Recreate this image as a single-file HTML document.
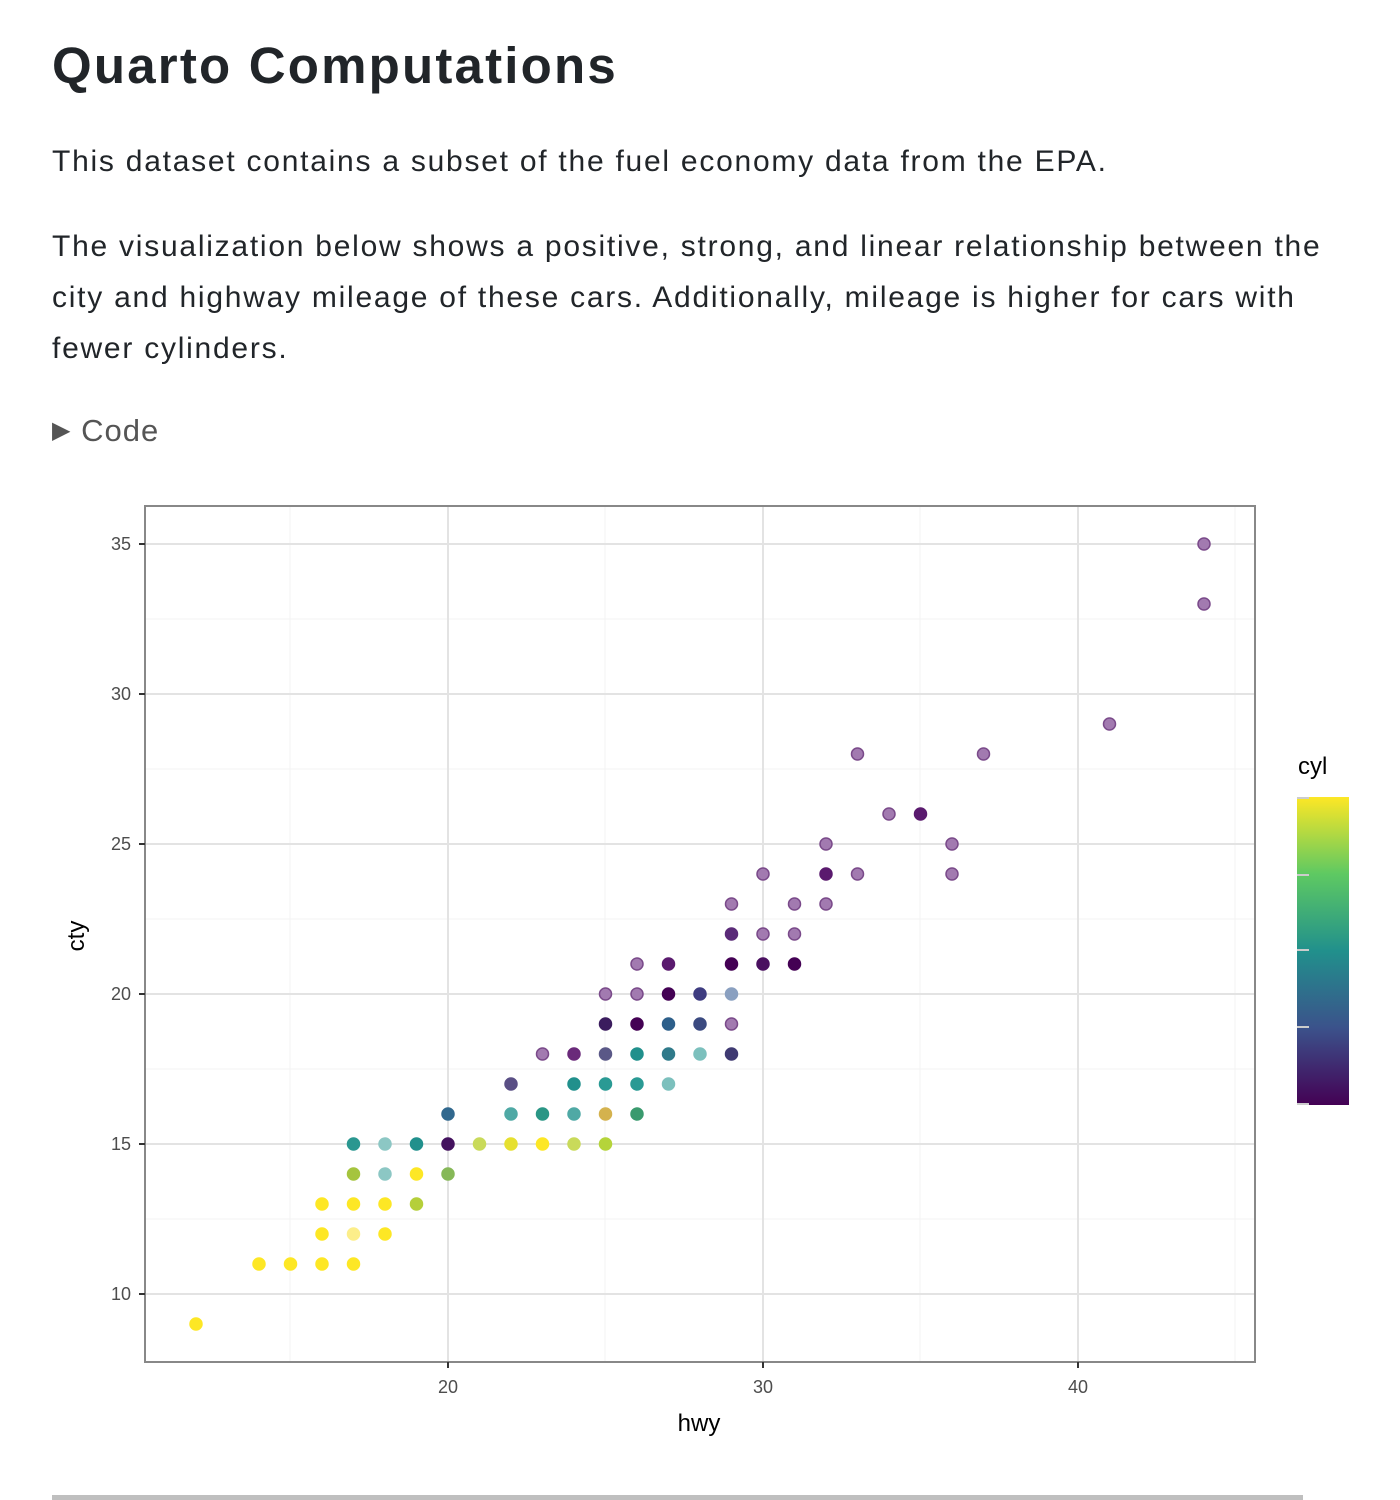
<!DOCTYPE html>
<html><head><meta charset="utf-8"><style>
body{margin:0;background:#fff;font-family:"Liberation Sans",sans-serif;color:#212529;width:1400px;height:1500px;overflow:hidden;position:relative}
h1{position:absolute;left:52px;top:36px;margin:0;font-size:51px;font-weight:bold;letter-spacing:2.2px;white-space:nowrap}
p{position:absolute;left:52px;margin:0;font-size:30px;line-height:51px;width:1340px;letter-spacing:1.75px;white-space:nowrap}
.code{position:absolute;left:52px;top:413px;font-size:31px;color:#555;letter-spacing:1px}
.rule{position:absolute;left:52px;top:1495px;width:1251px;height:5px;background:#bfbfbf}
</style></head><body>
<h1>Quarto Computations</h1>
<p style="top:136px">This dataset contains a subset of the fuel economy data from the EPA.</p>
<p style="top:221px">The visualization below shows a positive, strong, and linear relationship between the<br>city and highway mileage of these cars. Additionally, mileage is higher for cars with<br>fewer cylinders.</p>
<div class="code"><span style="font-size:24px;position:relative;top:-3px">&#9654;</span> Code</div>
<svg width="1400" height="1500" style="position:absolute;left:0;top:0" xmlns="http://www.w3.org/2000/svg">
<defs><linearGradient id="v" x1="0" y1="1" x2="0" y2="0">
<stop offset="0" stop-color="#440154"/><stop offset="0.25" stop-color="#3b528b"/><stop offset="0.5" stop-color="#21908c"/><stop offset="0.75" stop-color="#5ec962"/><stop offset="1" stop-color="#fde725"/></linearGradient></defs>
<g stroke="#f3f3f3" stroke-width="1">
<line x1="290" y1="507" x2="290" y2="1361"/><line x1="605" y1="507" x2="605" y2="1361"/><line x1="920" y1="507" x2="920" y2="1361"/><line x1="1235" y1="507" x2="1235" y2="1361"/>
<line x1="146" y1="1219" x2="1254" y2="1219"/><line x1="146" y1="1069" x2="1254" y2="1069"/><line x1="146" y1="919" x2="1254" y2="919"/><line x1="146" y1="769" x2="1254" y2="769"/><line x1="146" y1="619" x2="1254" y2="619"/>
</g>
<g stroke="#e3e3e3" stroke-width="2">
<line x1="448" y1="507" x2="448" y2="1361"/><line x1="763" y1="507" x2="763" y2="1361"/><line x1="1078" y1="507" x2="1078" y2="1361"/>
<line x1="146" y1="1294" x2="1254" y2="1294"/><line x1="146" y1="1144" x2="1254" y2="1144"/><line x1="146" y1="994" x2="1254" y2="994"/><line x1="146" y1="844" x2="1254" y2="844"/><line x1="146" y1="694" x2="1254" y2="694"/><line x1="146" y1="544" x2="1254" y2="544"/>
</g>
<rect x="145" y="506" width="1110" height="856" fill="none" stroke="#888" stroke-width="2"/>
<g stroke="#333" stroke-width="2">
<line x1="139" y1="1294" x2="145" y2="1294"/><line x1="139" y1="1144" x2="145" y2="1144"/><line x1="139" y1="994" x2="145" y2="994"/><line x1="139" y1="844" x2="145" y2="844"/><line x1="139" y1="694" x2="145" y2="694"/><line x1="139" y1="544" x2="145" y2="544"/>
<line x1="448" y1="1362" x2="448" y2="1368"/><line x1="763" y1="1362" x2="763" y2="1368"/><line x1="1078" y1="1362" x2="1078" y2="1368"/>
</g>
<g font-family="Liberation Sans" font-size="18" fill="#4d4d4d" text-anchor="end">
<text x="131" y="1300">10</text><text x="131" y="1150">15</text><text x="131" y="1000">20</text><text x="131" y="850">25</text><text x="131" y="700">30</text><text x="131" y="550">35</text>
</g>
<g font-family="Liberation Sans" font-size="18" fill="#4d4d4d" text-anchor="middle">
<text x="448" y="1393">20</text><text x="763" y="1393">30</text><text x="1078" y="1393">40</text>
</g>
<text x="699" y="1431" font-family="Liberation Sans" font-size="24" text-anchor="middle">hwy</text>
<text transform="translate(84,936) rotate(-90)" font-family="Liberation Sans" font-size="24" text-anchor="middle">cty</text>
<text x="1298" y="774" font-family="Liberation Sans" font-size="24">cyl</text>
<rect x="1297" y="797" width="52" height="308" fill="url(#v)"/>
<g stroke="#ccc" stroke-width="2">
<line x1="1297" y1="875" x2="1309" y2="875"/><line x1="1297" y1="950" x2="1309" y2="950"/><line x1="1297" y1="1027" x2="1309" y2="1027"/>
<line x1="1297" y1="798" x2="1309" y2="798"/><line x1="1297" y1="1104" x2="1309" y2="1104"/>
</g>
<g id="pts" stroke-width="1.5"></g>
</svg>
<script>
var P=[[12,9,'Y'],[14,11,'Y'],[15,11,'Y'],[16,11,'Y'],[17,11,'Y'],[16,12,'Y'],[17,12,'#fcee8a'],[18,12,'Y'],
[16,13,'Y'],[17,13,'Y'],[18,13,'Y'],[19,13,'#b5cf3a'],[17,14,'#a5c43e'],[18,14,'#8cc7c4'],[19,14,'Y'],[20,14,'#86b858'],
[17,15,'#2a9790'],[18,15,'#8cc7c4'],[19,15,'#21908c'],[20,15,'#44125e'],[21,15,'#c9da5a'],[22,15,'#e6e030'],[23,15,'#fde725'],[24,15,'#c9da5a'],[25,15,'#b5d43a'],
[20,16,'#31688e'],[22,16,'#4fa9a5'],[23,16,'#2a9685'],[24,16,'#4fa9a5'],[25,16,'#d4b24e'],[26,16,'#3a9a6e'],
[22,17,'#5a4f85'],[24,17,'#21908c'],[25,17,'#2a9a94'],[26,17,'#2a9a94'],[27,17,'#7cc0bd'],
[23,18,'#a27ab0'],[24,18,'#6a2a7a'],[25,18,'#5a5887'],[26,18,'#21908c'],[27,18,'#2f7a8a'],[28,18,'#7cc0bd'],[29,18,'#3f3a72'],
[25,19,'#3b1c5e'],[26,19,'#440154'],[27,19,'#2d5f8a'],[28,19,'#3b4a80'],[29,19,'#a27ab0'],
[25,20,'#a27ab0'],[26,20,'#a27ab0'],[27,20,'#440154'],[28,20,'#3e3c80'],[29,20,'#8aa0c0'],
[26,21,'#a27ab0'],[27,21,'#5a1a6e'],[29,21,'#440154'],[30,21,'#4a1060'],[31,21,'#440154'],
[29,22,'#5a2a78'],[30,22,'#a27ab0'],[31,22,'#a27ab0'],[29,23,'#a27ab0'],[31,23,'#a27ab0'],[32,23,'#a27ab0'],
[30,24,'#a27ab0'],[32,24,'#5a1a6e'],[33,24,'#a27ab0'],[36,24,'#a27ab0'],[32,25,'#a27ab0'],[36,25,'#a27ab0'],
[34,26,'#a27ab0'],[35,26,'#5a1a6e'],[33,28,'#a27ab0'],[37,28,'#a27ab0'],[41,29,'#a27ab0'],[44,33,'#a27ab0'],[44,35,'#a27ab0']];
var g=document.getElementById('pts'),s='';
P.forEach(function(p){var c=p[2]=='Y'?'#fde725':p[2];var st=c=='#a27ab0'?'#7a4a8a':c;
s+='<circle cx="'+(448+31.5*(p[0]-20))+'" cy="'+(1294-30*(p[1]-10))+'" r="6" fill="'+c+'" stroke="'+st+'"/>';});
g.innerHTML=s;
</script>
<div class="rule"></div>
</body></html>
